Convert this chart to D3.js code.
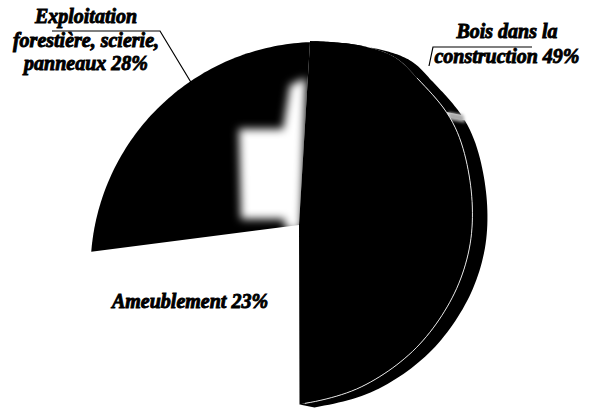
<!DOCTYPE html>
<head>
    <meta charset="utf-8">
    <style>
        body{ margin:0; background:white; }
        svg{ display:block; background-color:white; }
        text{
            font-family:"Liberation Serif", "Times New Roman", serif;
            font-weight:bold;
            font-style:italic;
            font-size:20px;
            fill:#000;
            stroke:#000;
            stroke-width:0.9px;
        }
        .leader{ fill:none; stroke:#000; stroke-width:1.2; }
    </style>
</head>
<body>
<script src="https://d3js.org/d3.v7.min.js"></script>
<script>

// data
const categories = ['Bois dans la construction', 'Ameublement', 'Exploitation forestière, scierie, panneaux'];
const shares = [49, 23, 28];
const labelLines = [
    ['Bois dans la', 'construction 49%'],
    ['Ameublement 23%'],
    ['Exploitation', 'forestière, scierie,', 'panneaux 28%']
];

// layout
const width = 594;
const height = 412;
const apex = [299, 225];
const startAngle = 0.06;
const deg = Math.PI / 180;
const TAU = 2 * Math.PI;

// outline of the tilted disc: the big slice has its own, flatter top face
const boisOutline = [[290, 42], [330, 42], [367, 47], [396, 58], [417, 78], [447, 113], [462, 145],
    [472, 200], [469, 250], [451, 300], [414, 350], [361, 387], [307, 403], [285, 404],
    [160, 330], [118, 225], [160, 110], [225, 55]];
const leftRim = {cx: 318.5, cy: 270, r: 228};

const sides = [
    {a0: startAngle, a1: 52.5 * deg, shift: [15, 3]},
    {a0: 54.5 * deg, a1: null, shift: [15, 3]}
];
const seamFrom = 38.8 * deg;
const labelPos = [
    {x: 507, y: 38, dy: 25},
    {x: 190, y: 308, dy: 0},
    {x: 86, y: 23, dy: 23.5}
];
const leaders = [
    [[532, 47], [433, 47], [429, 66]],
    null,
    [[52, 31], [160, 31], [192, 84]]
];
// light patch on the inner wall of the upper-left slice (relative to apex)
const glowShape = [[-9, -140], [7, -147], [2, 5], [-13, 5], [-15, -6], [-58, -6], [-60, -96], [-16, -96]];

const fill = d3.scaleOrdinal().domain(categories).range(['#000', '#fff', '#000']);

const svg = d3.select('body').append('svg')
    .attr('width', width)
    .attr('height', height);

const defs = svg.append('defs');
defs.append('filter').attr('id', 'soft').attr('x', '-50%').attr('y', '-50%').attr('width', '200%').attr('height', '200%')
    .append('feGaussianBlur').attr('stdDeviation', 4);
defs.append('filter').attr('id', 'soft2').attr('x', '-50%').attr('y', '-50%').attr('width', '200%').attr('height', '200%')
    .append('feGaussianBlur').attr('stdDeviation', 1.5);

// polar table (angle clockwise from up, radius) of a closed outline seen from the apex
const polarTable = pts => {
    const tmp = svg.append('path')
        .attr('d', d3.line().curve(d3.curveCatmullRomClosed)(pts))
        .attr('fill', 'none');
    const node = tmp.node();
    const L = node.getTotalLength();
    const table = d3.range(1440).map(i => {
        const q = node.getPointAtLength(L * i / 1440);
        const dx = q.x - apex[0], dy = q.y - apex[1];
        let a = Math.atan2(dx, -dy);
        if (a < 0) a += TAU;
        return [a, Math.hypot(dx, dy)];
    }).sort((a, b) => a[0] - b[0]);
    tmp.remove();
    return table;
};

const circleTable = c => d3.range(1440).map(i => {
    const t = TAU * i / 1440;
    const dx = c.cx + c.r * Math.cos(t) - apex[0], dy = c.cy + c.r * Math.sin(t) - apex[1];
    let a = Math.atan2(dx, -dy);
    if (a < 0) a += TAU;
    return [a, Math.hypot(dx, dy)];
}).sort((a, b) => a[0] - b[0]);

const bisect = d3.bisector(d => d[0]).left;
const radiusAt = (table, a) => {
    a = ((a % TAU) + TAU) % TAU;
    let i = bisect(table, a);
    const hi = table[i % table.length];
    const lo = table[(i - 1 + table.length) % table.length];
    let a0 = lo[0], a1 = hi[0];
    if (i === 0) a0 -= TAU;
    if (i === table.length) a1 += TAU;
    const k = a1 === a0 ? 0 : (a - a0) / (a1 - a0);
    return lo[1] + (hi[1] - lo[1]) * k;
};

const rimPoint = (a, table, shift = [0, 0]) => {
    const r = radiusAt(table, a);
    return [apex[0] + r * Math.sin(a) + shift[0], apex[1] - r * Math.cos(a) + shift[1]];
};
const rimPoints = (a0, a1, table, shift) => d3.range(81).map(i => rimPoint(a0 + (a1 - a0) * i / 80, table, shift));

const boisTable = polarTable(boisOutline);
const leftTable = circleTable(leftRim);
const tableOf = i => i === 0 ? boisTable : leftTable;

const closed = d3.line().curve(d3.curveLinearClosed);
const open = d3.line();

const arcs = d3.pie().sort(null).value(d => d)
    .startAngle(startAngle).endAngle(startAngle + TAU)(shares);

// left slices first
const pieG = svg.append('g');
[1, 2].forEach(i => {
    const a = arcs[i];
    pieG.append('path')
        .attr('d', closed([apex, ...rimPoints(a.startAngle, a.endAngle, tableOf(i))]))
        .attr('fill', fill(categories[i]));
});

// glow on the wall
pieG.append('path')
    .attr('d', closed(glowShape.map(p => [apex[0] + p[0], apex[1] + p[1]])))
    .attr('fill', '#fff')
    .attr('filter', 'url(#soft)');

// side of the big slice
const bois = arcs[0];
sides.forEach(s => {
    const a1 = s.a1 === null ? bois.endAngle : s.a1;
    const outer = rimPoints(s.a0, a1, boisTable, s.shift);
    const inner = rimPoints(s.a0, a1, boisTable).reverse();
    pieG.append('path')
        .attr('d', closed(outer.concat(inner)))
        .attr('fill', '#000');
});

// small grey smudge in the notch of the side
const gapA = (sides[0].a1 + sides[1].a0) / 2;
const gIn = rimPoint(gapA, boisTable);
const gOut = rimPoint(gapA, boisTable, sides[1].shift);
pieG.append('path')
    .attr('d', closed([
        [gIn[0], gIn[1] - 3], [gOut[0], gOut[1] - 3],
        [gOut[0] + 2, gOut[1] + 5], [gIn[0] + 1, gIn[1] + 5]
    ]))
    .attr('fill', '#aaa')
    .attr('filter', 'url(#soft2)');

// top face of the big slice
pieG.append('path')
    .attr('d', closed([apex, ...rimPoints(bois.startAngle, bois.endAngle, boisTable)]))
    .attr('fill', fill(categories[0]));

// seam between top face and side
pieG.append('path')
    .attr('d', open(rimPoints(seamFrom, bois.endAngle - 0.03, boisTable)))
    .attr('fill', 'none')
    .attr('stroke', '#e0e0e0')
    .attr('stroke-width', 1);

// leaders
leaders.forEach(l => {
    if (!l) return;
    svg.append('path').attr('class', 'leader').attr('d', open(l));
});

// labels
labelLines.forEach((lines, i) => {
    const p = labelPos[i];
    const t = svg.append('text')
        .attr('text-anchor', 'middle')
        .attr('x', p.x)
        .attr('y', p.y);
    lines.forEach((line, j) => {
        t.append('tspan')
            .attr('x', p.x)
            .attr('dy', j === 0 ? 0 : p.dy)
            .text(line);
    });
});

</script>
</body>
</html>
